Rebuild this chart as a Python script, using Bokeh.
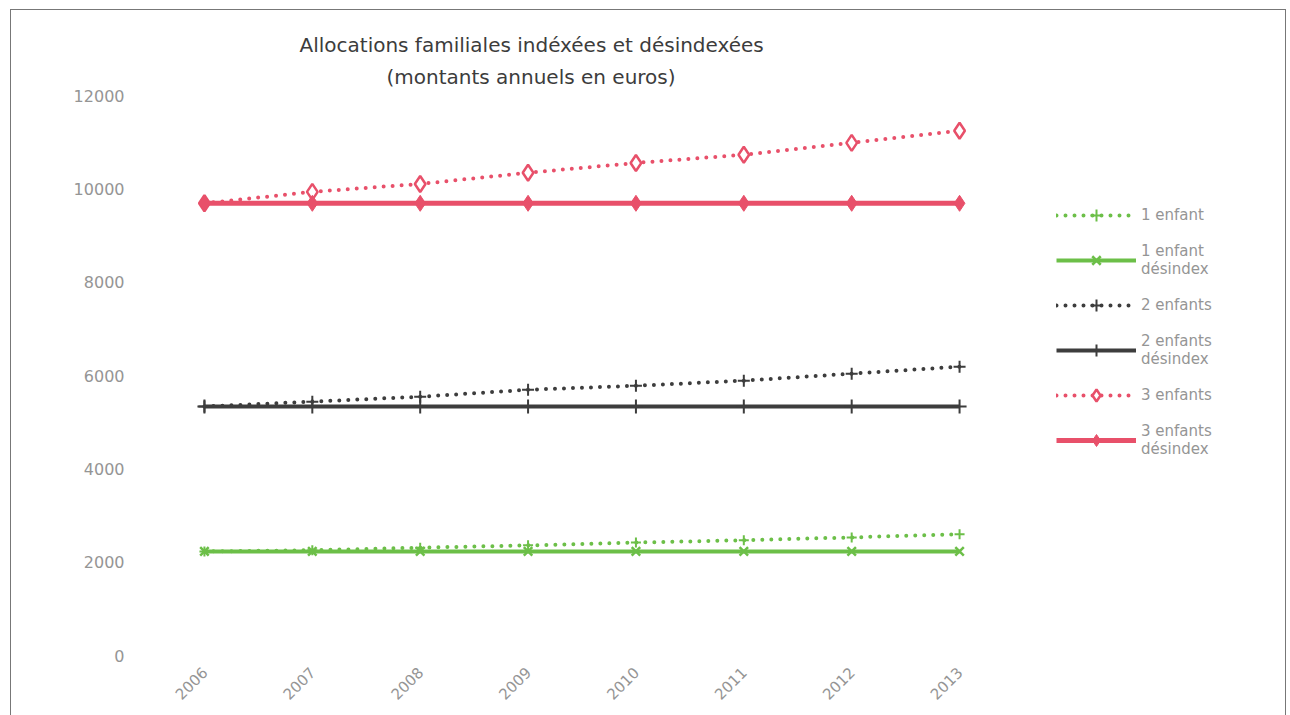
from bokeh.plotting import figure
from bokeh.models import Range1d, FixedTicker, Legend, LegendItem, ColumnDataSource, Title
from bokeh.embed import file_html
from bokeh.resources import INLINE
import math

years = [2006, 2007, 2008, 2009, 2010, 2011, 2012, 2013]
enfant1 = [2230, 2255, 2310, 2360, 2420, 2470, 2530, 2600]
enfant1_desindex = [2230, 2230, 2230, 2230, 2230, 2230, 2230, 2230]
enfants2 = [5335, 5440, 5545, 5695, 5780, 5890, 6040, 6190]
enfants2_desindex = [5335, 5335, 5335, 5335, 5335, 5335, 5335, 5335]
enfants3 = [9690, 9935, 10105, 10345, 10555, 10730, 10985, 11245]
enfants3_desindex = [9690, 9690, 9690, 9690, 9690, 9690, 9690, 9690]
y_ticks = [0, 2000, 4000, 6000, 8000, 10000, 12000]
title_line1 = "Allocations familiales indéxées et désindexées"
title_line2 = "(montants annuels en euros)"

GREEN = "#6cbf48"
DARK = "#3d3d3d"
RED = "#e8506a"
FONT = "DejaVu Sans"
LABEL = "#959595"

# plot area holds the 8 year slots (863 px) plus room on the right for the legend
FRAME_W = 1134
SLOT_W = 863 / 8
x_start = years[0] - 0.5
x_end = x_start + FRAME_W / SLOT_W

p = figure(frame_width=FRAME_W, frame_height=560, x_range=Range1d(x_start, x_end),
           y_range=Range1d(0, 12000), output_backend="svg", toolbar_location=None,
           min_border_left=139, min_border_right=1, min_border_top=85, min_border_bottom=60)
p.margin = (9, 0, 0, 10)
p.styles = {"border": "1px solid #777"}
p.title = None

t2 = Title(text=title_line2, align="left", offset=236, text_font=FONT, text_font_size="20px",
           text_font_style="normal", text_color="#3c3c3c", standoff=14)
t1 = Title(text=title_line1, align="left", offset=149, text_font=FONT, text_font_size="20px",
           text_font_style="normal", text_color="#3c3c3c", standoff=-3)
p.add_layout(t2, "above")
p.add_layout(t1, "above")

p.outline_line_color = None
p.xgrid.grid_line_color = None
p.ygrid.grid_line_color = None

p.yaxis.ticker = FixedTicker(ticks=y_ticks)
p.yaxis.axis_line_color = None
p.yaxis.major_tick_line_color = None
p.yaxis.minor_tick_line_color = None
p.yaxis.major_label_standoff = 20
p.yaxis.major_label_text_font = FONT
p.yaxis.major_label_text_font_size = "16px"
p.yaxis.major_label_text_color = LABEL

p.xaxis.ticker = FixedTicker(ticks=years)
p.xaxis.axis_line_color = None
p.xaxis.major_tick_line_color = None
p.xaxis.minor_tick_line_color = None
p.xaxis.major_label_orientation = math.pi / 4
p.xaxis.major_label_standoff = 8
p.xaxis.major_label_text_font = FONT
p.xaxis.major_label_text_font_size = "15px"
p.xaxis.major_label_text_color = LABEL

src = ColumnDataSource(dict(x=years, e1=enfant1, e1d=enfant1_desindex, e2=enfants2,
                            e2d=enfants2_desindex, e3=enfants3, e3d=enfants3_desindex))

DOT = dict(line_dash="0 9", line_cap="round", line_width=4)

items = []
l = p.line("x", "e1", source=src, line_color=GREEN, **DOT)
m = p.scatter("x", "e1", source=src, marker="cross", size=10, line_color=GREEN, line_width=2)
items.append(LegendItem(label="1 enfant", renderers=[l, m]))

l = p.line("x", "e1d", source=src, line_color=GREEN, line_width=4)
m = p.scatter("x", "e1d", source=src, marker="x", size=12, line_color=GREEN, line_width=2.5)
items.append(LegendItem(label="1 enfant\ndésindex", renderers=[l, m]))

l = p.line("x", "e2", source=src, line_color=DARK, **DOT)
m = p.scatter("x", "e2", source=src, marker="cross", size=12, line_color=DARK, line_width=2)
items.append(LegendItem(label="2 enfants", renderers=[l, m]))

l = p.line("x", "e2d", source=src, line_color=DARK, line_width=4)
m = p.scatter("x", "e2d", source=src, marker="cross", size=14, line_color=DARK, line_width=2)
items.append(LegendItem(label="2 enfants\ndésindex", renderers=[l, m]))

l = p.line("x", "e3", source=src, line_color=RED, **DOT)
m = p.scatter("x", "e3", source=src, marker="diamond", size=16, line_color=RED,
              fill_color="white", line_width=2.5)
items.append(LegendItem(label="3 enfants", renderers=[l, m]))

l = p.line("x", "e3d", source=src, line_color=RED, line_width=5)
m = p.scatter("x", "e3d", source=src, marker="diamond", size=16, line_color=RED, fill_color=RED)
items.append(LegendItem(label="3 enfants\ndésindex", renderers=[l, m]))

legend = Legend(items=items, location=(906, 193), glyph_width=80, glyph_height=30,
                label_height=45, spacing=0, padding=0, margin=0, label_standoff=5,
                label_text_font=FONT, label_text_font_size="15px", label_text_color=LABEL,
                label_text_line_height=1.5,
                border_line_color=None, background_fill_alpha=0)
p.add_layout(legend, "center")

open("out.html", "w").write(file_html(p, INLINE))
